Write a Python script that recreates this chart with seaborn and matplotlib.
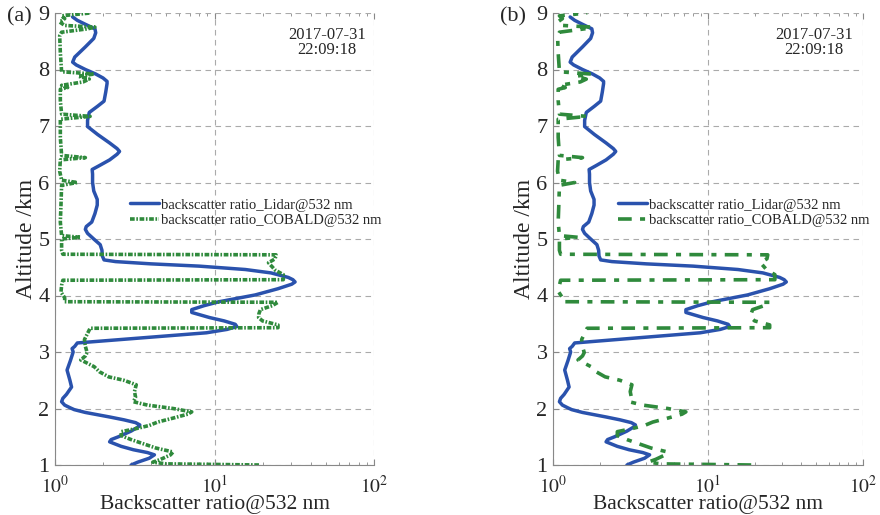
import numpy as np
import pandas as pd
import matplotlib
matplotlib.use("Agg")
import matplotlib.pyplot as plt
import seaborn as sns

# ---------------- data ----------------
lidar_alt = [1.00, 1.05, 1.12, 1.18, 1.22, 1.27, 1.33, 1.41, 1.45, 1.50, 1.60, 1.68,
             1.71, 1.75, 1.80, 1.85, 1.93, 1.98, 2.01, 2.06, 2.12, 2.18, 2.25, 2.38,
             2.50, 2.68, 2.85, 3.00, 3.06, 3.10, 3.16, 3.25, 3.34, 3.40, 3.45, 3.49,
             3.55, 3.61, 3.70, 3.75, 3.82, 3.89, 4.01, 4.12, 4.20, 4.24, 4.28, 4.32,
             4.40, 4.46, 4.52, 4.56, 4.60, 4.63, 4.70, 4.80, 4.90, 5.00, 5.10, 5.17,
             5.22, 5.30, 5.45, 5.60, 5.70, 5.85, 6.00, 6.15, 6.23, 6.30, 6.40, 6.50,
             6.55, 6.60, 6.70, 6.85, 6.99, 7.10, 7.24, 7.35, 7.44, 7.60, 7.75, 7.79,
             7.85, 7.92, 8.00, 8.08, 8.13, 8.22, 8.40, 8.55, 8.65, 8.72, 8.80, 8.87,
             8.93]
lidar_ratio = [3.0, 3.3, 3.9, 4.2, 3.8, 3.1, 2.6, 2.2, 2.25, 2.5, 3.0, 3.35,
               3.4, 3.2, 2.7, 2.2, 1.55, 1.32, 1.25, 1.15, 1.10, 1.12, 1.18, 1.27,
               1.24, 1.19, 1.25, 1.30, 1.28, 1.33, 1.38, 3.5, 8.9, 12.0, 13.8, 13.5,
               11.5, 9.3, 7.2, 7.2, 8.6, 10.7, 18.0, 25.0, 30.5, 32.0, 31.0, 29.0,
               22.6, 15.6, 8.0, 4.0, 2.4, 2.03, 1.98, 1.97, 1.92, 1.75, 1.60, 1.55,
               1.57, 1.70, 1.78, 1.84, 1.84, 1.75, 1.72, 1.72, 1.71, 1.90, 2.20, 2.45,
               2.54, 2.45, 2.20, 1.85, 1.60, 1.60, 1.64, 1.85, 2.03, 2.08, 2.12, 2.12,
               2.0, 1.8, 1.55, 1.36, 1.29, 1.33, 1.55, 1.75, 1.80, 1.78, 1.55, 1.38,
               1.29]

cobald_alt = [1.00, 1.01, 1.02, 1.05, 1.10, 1.18, 1.23, 1.30, 1.39, 1.45, 1.52, 1.59,
              1.65, 1.70, 1.76, 1.83, 1.90, 1.94, 2.00, 2.06, 2.12, 2.20, 2.30, 2.42,
              2.50, 2.56, 2.65, 2.74, 2.80, 2.86, 2.93, 2.99, 3.10, 3.22, 3.33, 3.42,
              3.43, 3.48, 3.55, 3.61, 3.68, 3.75, 3.82, 3.88, 3.89, 3.96, 4.06, 4.18,
              4.27, 4.28, 4.37, 4.45, 4.58, 4.65, 4.72, 4.73, 4.80, 4.90, 5.00, 5.03,
              5.06, 5.30, 5.60, 5.95, 6.00, 6.04, 6.20, 6.40, 6.44, 6.48, 6.80, 7.12,
              7.17, 7.21, 7.45, 7.65, 7.68, 7.72, 7.78, 7.83, 7.88, 7.92, 7.96, 8.30,
              8.60, 8.66, 8.72, 8.75, 8.78, 8.84, 8.90, 8.95, 9.00]
cobald_ratio = [19.0, 10.0, 5.0, 4.1, 4.6, 5.3, 5.5, 4.3, 3.46, 3.0, 2.6, 2.6,
                3.3, 3.9, 4.4, 5.5, 6.8, 7.2, 5.5, 3.8, 3.1, 3.2, 3.15, 3.23,
                2.7, 2.17, 1.9, 1.76, 1.6, 1.45, 1.55, 1.59, 1.55, 1.53, 1.60, 1.66,
                25.0, 25.0, 20.0, 18.9, 19.0, 19.4, 23.0, 25.0, 1.15, 1.15, 1.09, 1.10,
                1.12, 27.0, 27.0, 24.0, 21.8, 24.0, 24.3, 1.12, 1.10, 1.10, 1.10, 1.45,
                1.10, 1.08, 1.09, 1.10, 1.38, 1.10, 1.07, 1.08, 1.55, 1.10, 1.08, 1.08,
                1.66, 1.10, 1.08, 1.08, 1.20, 1.10, 1.50, 1.64, 1.40, 1.76, 1.10, 1.08,
                1.07, 1.10, 1.60, 1.78, 1.15, 1.07, 1.15, 1.10, 1.66]

x_ticks = [1, 10, 100]
x_tick_labels = [r"$10^{0}$", r"$10^{1}$", r"$10^{2}$"]
y_ticks = [1, 2, 3, 4, 5, 6, 7, 8, 9]
lidar_label = "backscatter ratio_Lidar@532 nm"
cobald_label = "backscatter ratio_COBALD@532 nm"
stamp = "2017-07-31\n22:09:18"
panel_labels = ["(a)", "(b)"]

df_lidar = pd.DataFrame({"alt": lidar_alt, "ratio": lidar_ratio})
df_cobald = pd.DataFrame({"alt": cobald_alt, "ratio": cobald_ratio})

# ---------------- style ----------------
sns.set_style("ticks")
plt.rcParams["font.family"] = ["Liberation Serif", "DejaVu Serif"]
plt.rcParams["mathtext.fontset"] = "stix"

BLUE = "#2a52ad"
GREEN = "#2f8a3c"
GRID = "#aaaaaa"
SPINE = "#888888"

fig = plt.figure(figsize=(8.8, 5.15), dpi=100)
ax_a = fig.add_axes([55 / 880, 50 / 515, 319 / 880, 452 / 515])
ax_b = fig.add_axes([553 / 880, 50 / 515, 310 / 880, 452 / 515])

green_styles = [(0, (1.3, 0.45, 0.45, 0.45)), (0, (3.8, 2.3, 1.4, 2.3))]
legend_anchor = [(0.235, 0.59), (0.21, 0.59)]
stamp_x = [0.853, 0.842]
panel_x = [7 / 880, 500 / 880]

for i, ax in enumerate([ax_a, ax_b]):
    ax.set_axisbelow(True)
    sns.lineplot(data=df_lidar, x="ratio", y="alt", sort=False, estimator=None,
                 color=BLUE, lw=2.5, ax=ax, label=lidar_label)
    sns.lineplot(data=df_cobald, x="ratio", y="alt", sort=False, estimator=None,
                 color=GREEN, lw=2.6, ax=ax, label=cobald_label,
                 linestyle=green_styles[i])
    ax.set_xscale("log")
    ax.set_xlim(1, 100)
    ax.set_ylim(1, 9)
    ax.set_xticks(x_ticks)
    ax.set_xticklabels(x_tick_labels, fontsize=14)
    ax.set_yticks(y_ticks)
    ax.set_yticklabels([str(v) for v in y_ticks], fontsize=16)
    ax.grid(True, which="major", linestyle=(0, (5, 4)), color=GRID, lw=0.8)
    ax.tick_params(which="both", direction="in", top=True, right=False,
                   color=SPINE)
    ax.tick_params(axis="x", which="major", pad=7)
    ax.tick_params(axis="y", which="major", pad=4)
    ax.tick_params(which="major", length=4)
    ax.tick_params(which="minor", length=2.5)
    for s in ["top", "right"]:
        ax.spines[s].set_visible(False)
    for s in ["left", "bottom"]:
        ax.spines[s].set_color(SPINE)
        ax.spines[s].set_linewidth(0.8)
    ax.set_xlabel("Backscatter ratio@532 nm", fontsize=15.5, labelpad=-1)
    ax.set_ylabel("Altitude /km", fontsize=17, labelpad=1)
    ax.legend(loc="upper left", bbox_to_anchor=legend_anchor[i],
              frameon=False, fontsize=10.5, handlelength=2.0,
              handletextpad=0.1, labelspacing=0.15, borderaxespad=0,
              borderpad=0)
    ax.text(stamp_x[i], 0.97, stamp, transform=ax.transAxes, ha="center",
            va="top", fontsize=12, linespacing=0.95)
    fig.text(panel_x[i], 1 - 17 / 515, panel_labels[i], ha="left", va="center",
             fontsize=16)

fig.savefig("out.png", dpi=100)
